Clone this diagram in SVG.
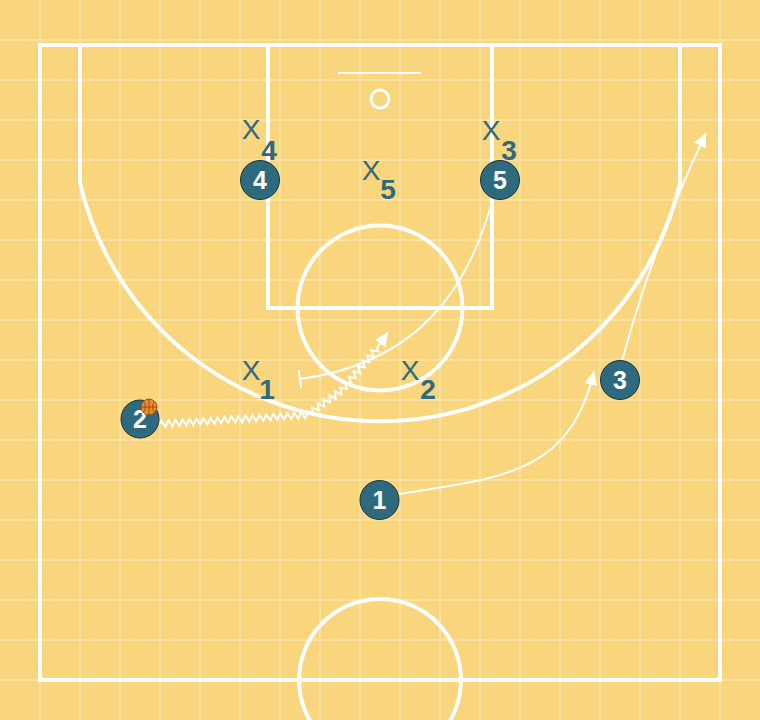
<svg xmlns="http://www.w3.org/2000/svg" width="760" height="720" viewBox="0 0 760 720">
  <style>
    .grid line { stroke: #FCE2A0; stroke-width: 2; }
    .court { fill: none; stroke: #FFFFFF; stroke-width: 4; }
    .conn { fill: none; stroke: #FFFFFF; stroke-width: 2; }
    .zig { fill: none; stroke: #FFFFFF; stroke-width: 2; stroke-linejoin: miter; }
    .player circle { fill: #2E6A7E; stroke: #16343F; stroke-width: 1; }
    .pnum { font-family: "Liberation Sans", Arial, sans-serif; font-size: 25px; font-weight: bold; fill: #FFFFFF; text-anchor: middle; }
    .dx { font-family: "Liberation Sans", Arial, sans-serif; font-size: 28px; fill: #2E6A7E; text-anchor: middle; }
    .dn { font-family: "Liberation Sans", Arial, sans-serif; font-size: 28px; font-weight: bold; fill: #2E6A7E; text-anchor: middle; }
  </style>
  <defs>
    <marker id="ah" markerUnits="userSpaceOnUse" markerWidth="16" markerHeight="14" refX="14" refY="6.5" orient="auto">
      <path d="M0,0 L14,6.5 L0,13 z" fill="#FFFFFF"/>
    </marker>
  </defs>

  <rect width="760" height="720" fill="#F9D57E"/>
  <g class="grid">
    <line x1="40" y1="0" x2="40" y2="720"/><line x1="80" y1="0" x2="80" y2="720"/>
    <line x1="120" y1="0" x2="120" y2="720"/><line x1="160" y1="0" x2="160" y2="720"/>
    <line x1="200" y1="0" x2="200" y2="720"/><line x1="240" y1="0" x2="240" y2="720"/>
    <line x1="280" y1="0" x2="280" y2="720"/><line x1="320" y1="0" x2="320" y2="720"/>
    <line x1="360" y1="0" x2="360" y2="720"/><line x1="400" y1="0" x2="400" y2="720"/>
    <line x1="440" y1="0" x2="440" y2="720"/><line x1="480" y1="0" x2="480" y2="720"/>
    <line x1="520" y1="0" x2="520" y2="720"/><line x1="560" y1="0" x2="560" y2="720"/>
    <line x1="600" y1="0" x2="600" y2="720"/><line x1="640" y1="0" x2="640" y2="720"/>
    <line x1="680" y1="0" x2="680" y2="720"/><line x1="720" y1="0" x2="720" y2="720"/>
    <line x1="0" y1="40" x2="760" y2="40"/><line x1="0" y1="80" x2="760" y2="80"/>
    <line x1="0" y1="120" x2="760" y2="120"/><line x1="0" y1="160" x2="760" y2="160"/>
    <line x1="0" y1="200" x2="760" y2="200"/><line x1="0" y1="240" x2="760" y2="240"/>
    <line x1="0" y1="280" x2="760" y2="280"/><line x1="0" y1="320" x2="760" y2="320"/>
    <line x1="0" y1="360" x2="760" y2="360"/><line x1="0" y1="400" x2="760" y2="400"/>
    <line x1="0" y1="440" x2="760" y2="440"/><line x1="0" y1="480" x2="760" y2="480"/>
    <line x1="0" y1="520" x2="760" y2="520"/><line x1="0" y1="560" x2="760" y2="560"/>
    <line x1="0" y1="600" x2="760" y2="600"/><line x1="0" y1="640" x2="760" y2="640"/>
    <line x1="0" y1="680" x2="760" y2="680"/>
  </g>

  <g id="court">
    <rect class="court" x="40" y="45" width="680" height="635"/>
    <rect class="court" x="268" y="45" width="224" height="263"/>
    <path class="court" d="M80,45 V183 A308,308 0 0 0 680,183 V45"/>
    <circle class="court" cx="380" cy="308" r="82.5"/>
    <circle class="court" cx="380" cy="680" r="81"/>
    <line x1="338" y1="73" x2="421" y2="73" stroke="#FFFFFF" stroke-width="2"/>
    <circle cx="380" cy="99" r="9" fill="none" stroke="#FFFFFF" stroke-width="3"/>
  </g>

  <g id="connectors">
    <path class="conn" d="M399,494 C500,478 570,475 594,371" marker-end="url(#ah)"/>
    <path class="conn" d="M622,361 Q655,240 706,133" marker-end="url(#ah)"/>
    <path class="conn" d="M493,199 C475,260 440,360 300,379"/>
    <line class="conn" x1="298.8" y1="370.1" x2="301.2" y2="387.9"/>
    <g transform="translate(160,424) rotate(-3.5)">
      <path class="zig" d="M0,0 l1.75,-3.2 3.5,6.4 3.5,-6.4 3.5,6.4 3.5,-6.4 3.5,6.4 3.5,-6.4 3.5,6.4 3.5,-6.4 3.5,6.4 3.5,-6.4 3.5,6.4 3.5,-6.4 3.5,6.4 3.5,-6.4 3.5,6.4 3.5,-6.4 3.5,6.4 3.5,-6.4 3.5,6.4 3.5,-6.4 3.5,6.4 3.5,-6.4 3.5,6.4 3.5,-6.4 3.5,6.4 3.5,-6.4 3.5,6.4 3.5,-6.4 3.5,6.4 3.5,-6.4 3.5,6.4 3.5,-6.4 3.5,6.4 3.5,-6.4 3.5,6.4 3.5,-6.4 3.5,6.4 3.5,-6.4 3.5,6.4 3.5,-6.4 3.5,6.4 1.75,-3.2"/>
    </g>
    <g transform="translate(306.7,415) rotate(-35)">
      <path class="zig" d="M0,0 l1.75,-3.2 3.5,6.4 3.5,-6.4 3.5,6.4 3.5,-6.4 3.5,6.4 3.5,-6.4 3.5,6.4 3.5,-6.4 3.5,6.4 3.5,-6.4 3.5,6.4 1.75,-3.2"/>
    </g>
    <g transform="translate(341.1,390.9) rotate(-50)">
      <path class="zig" d="M0,0 l1.75,-3.2 3.5,6.4 3.5,-6.4 3.5,6.4 3.5,-6.4 3.5,6.4 3.5,-6.4 3.5,6.4 3.5,-6.4 3.5,6.4 3.5,-6.4 3.5,6.4 3.5,-6.4 3.5,6.4 3.5,-6.4 3.5,6.4 1.75,-3.2"/>
    </g>
    <path class="conn" d="M377.1,348 L388,332" marker-end="url(#ah)"/>
  </g>

  <g id="player-1" class="player"><circle cx="379.5" cy="500" r="19.5"/><text class="pnum" x="379.5" y="509">1</text></g>
  <g id="player-2" class="player"><circle cx="140" cy="419" r="19"/><text class="pnum" x="140" y="428">2</text></g>
  <g id="player-3" class="player"><circle cx="620" cy="380" r="19.5"/><text class="pnum" x="620" y="389">3</text></g>
  <g id="player-4" class="player"><circle cx="260" cy="180" r="19.5"/><text class="pnum" x="260" y="189">4</text></g>
  <g id="player-5" class="player"><circle cx="500" cy="180" r="19.5"/><text class="pnum" x="500" y="189">5</text></g>

  <g id="ball">
    <circle cx="149" cy="407" r="8" fill="#EE8A2C" stroke="#8A4512" stroke-width="0.8"/>
    <path d="M141,407 H157 M149,399 V415 M143.5,401.5 Q147.5,407 143.5,412.5 M154.5,401.5 Q150.5,407 154.5,412.5" fill="none" stroke="#8A4512" stroke-width="0.8"/>
  </g>

  <g id="defender-1"><text class="dx" x="251" y="380">X</text><text class="dn" x="267" y="399">1</text></g>
  <g id="defender-2"><text class="dx" x="410" y="380">X</text><text class="dn" x="428" y="399">2</text></g>
  <g id="defender-3"><text class="dx" x="491" y="140">X</text><text class="dn" x="509" y="160">3</text></g>
  <g id="defender-4"><text class="dx" x="251" y="139">X</text><text class="dn" x="269" y="160">4</text></g>
  <g id="defender-5"><text class="dx" x="371" y="180">X</text><text class="dn" x="388" y="199">5</text></g>
</svg>
